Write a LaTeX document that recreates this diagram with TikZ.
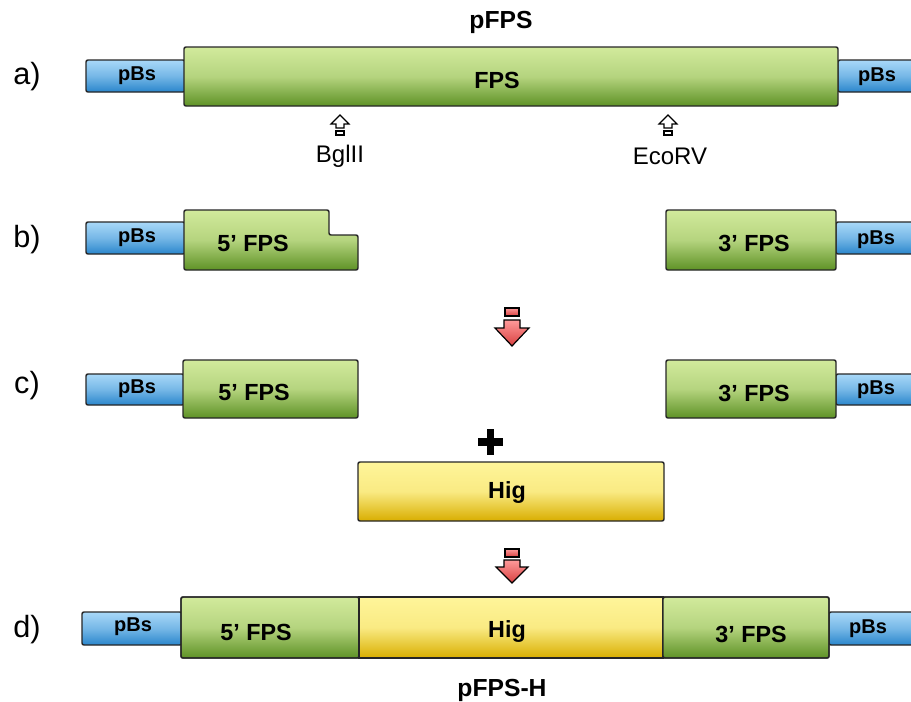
\documentclass[tikz,border=0pt]{standalone}
\usepackage{fontspec}
\setmainfont{Liberation Sans}
\begin{document}
\begin{tikzpicture}[x=0.75pt,y=-0.75pt]
\definecolor{gtop}{HTML}{D2EA9C}
\definecolor{gbot}{HTML}{5E9226}
\definecolor{btop}{HTML}{A8D8F8}
\definecolor{bbot}{HTML}{2A86CC}
\definecolor{ytop}{HTML}{FFF59A}
\definecolor{ybot}{HTML}{D9AE00}
\definecolor{rtop}{HTML}{FF9A9A}
\definecolor{rbot}{HTML}{D84040}
\tikzset{
  seg/.style={draw=black!85, line width=1.1pt, rounded corners=1.5pt},
  fps/.style={seg, top color=gtop, bottom color=gbot, middle color=gtop!75!gbot},
  pbs/.style={seg, top color=btop, bottom color=bbot, middle color=btop!60!bbot},
  hig/.style={seg, top color=ytop, bottom color=ybot, middle color=ytop!85!ybot},
  lbl/.style={font=\bfseries\fontsize{17.5}{20}\selectfont},
  plbl/.style={font=\bfseries\fontsize{15}{17}\selectfont},
  tlbl/.style={font=\bfseries\fontsize{18.5}{21}\selectfont},
  row/.style={font=\fontsize{23}{26}\selectfont},
  site/.style={font=\fontsize{18}{20}\selectfont},
  redarr/.style={draw=black, line width=0.9pt, top color=rtop, bottom color=rbot, line join=miter},
  hollow/.style={draw=black, line width=0.9pt, fill=white, line join=miter}
}
\useasboundingbox (0,0) rectangle (911,701);

% row labels
\node[row] (la) at (27,77) {a)};
\node[row] (lb) at (27,240) {b)};
\node[row] (lc) at (27,386) {c)};
\node[row] (ld) at (27,630) {d)};

% ---- a)
\node[tlbl] (tpfps) at (501,22) {pFPS};
\draw[pbs] (86,60) rectangle (185,92);
\draw[pbs] (838,60) rectangle (915,92);
\draw[fps] (184,47) rectangle (838,106);
\node[plbl] (pa1) at (137,76) {pBs};
\node[plbl] (pa2) at (877,77) {pBs};
\node[lbl] (fpsa) at (497,80) {FPS};
% restriction sites
\foreach \cx in {340,668}{
  \draw[hollow] (\cx,115) -- (\cx+9,124) -- (\cx+4,124) -- (\cx+4,128) -- (\cx-4,128) -- (\cx-4,124) -- (\cx-9,124) -- cycle;
  \draw[hollow] (\cx-4,131) rectangle (\cx+4,135);
}
\node[site] (bgl) at (340,156) {BglII};
\node[site] (eco) at (670,156) {EcoRV};

% ---- b)
\draw[pbs] (86,222) rectangle (185,254);
\draw[fps] (184,210) -- (329,210) -- (329,235) -- (358,235) -- (358,270) -- (184,270) -- cycle;
\node[plbl] (pb1) at (137,238) {pBs};
\node[lbl] (f5b) at (253,243) {5’ FPS};
\draw[pbs] (836,222) rectangle (915,254);
\draw[fps] (666,210) rectangle (836,270);
\node[plbl] (pb2) at (876,240) {pBs};
\node[lbl] (f3b) at (754,243) {3’ FPS};

% red arrow 1
\draw[redarr] (505,308) rectangle (519,316);
\draw[redarr] (504,320) -- (520,320) -- (520,328) -- (529,328) -- (512,346) -- (495,328) -- (504,328) -- cycle;

% ---- c)
\draw[pbs] (86,374) rectangle (184,405);
\draw[fps] (183,360) rectangle (358,418);
\node[plbl] (pc1) at (137,389) {pBs};
\node[lbl] (f5c) at (254,392) {5’ FPS};
\draw[pbs] (836,374) rectangle (915,405);
\draw[fps] (666,360) rectangle (836,418);
\node[plbl] (pc2) at (876,390) {pBs};
\node[lbl] (f3c) at (754,393) {3’ FPS};

% plus
\draw[line width=5.5pt] (478,442) -- (503,442) (490.5,429) -- (490.5,455);

% Hig
\draw[hig] (358,462) rectangle (664,521);
\node[lbl] (higc) at (507,493) {Hig};

% red arrow 2
\draw[redarr] (505,549) rectangle (519,557);
\draw[redarr] (504,560) -- (520,560) -- (520,567) -- (528,567) -- (512,583) -- (496,567) -- (504,567) -- cycle;

% ---- d)
\draw[pbs] (82,612) rectangle (182,645);
\draw[pbs] (829,612) rectangle (915,645);
\draw[fps] (181,597) rectangle (359,658);
\draw[hig, rounded corners=0pt] (359,597) rectangle (663,658);
\draw[fps] (663,597) rectangle (829,658);
\draw[seg, fill=none] (181,597) rectangle (829,658);
\node[plbl] (pd1) at (133,627) {pBs};
\node[plbl] (pd2) at (868,629) {pBs};
\node[lbl] (f5d) at (256,632) {5’ FPS};
\node[lbl] (higd) at (507,632) {Hig};
\node[lbl] (f3d) at (751,634) {3’ FPS};
\node[tlbl] (tpfpsh) at (502,690) {pFPS-H};
\end{tikzpicture}
\end{document}
